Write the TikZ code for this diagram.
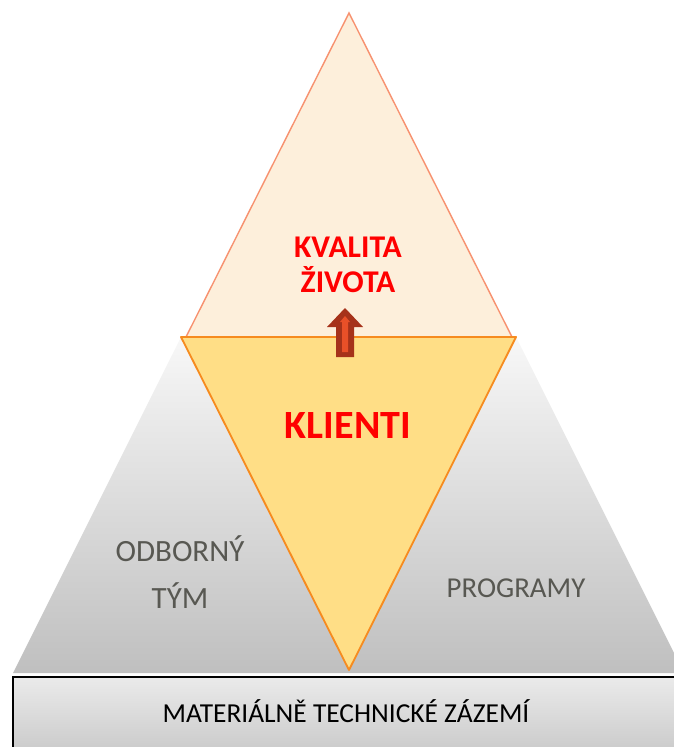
\documentclass[tikz,border=0pt]{standalone}
\usepackage{fontspec}
\setmainfont{Carlito}
\usetikzlibrary{positioning}
\definecolor{peach}{RGB}{253,239,219}
\definecolor{peachline}{RGB}{247,146,112}
\definecolor{gold}{RGB}{255,222,134}
\definecolor{goldline}{RGB}{246,139,31}
\definecolor{greytext}{RGB}{88,88,82}
\definecolor{arrowdark}{RGB}{166,50,26}
\definecolor{arrowlight}{RGB}{233,80,40}
\tikzset{
  redlabel/.style  ={text=red, font=\bfseries, align=center, inner sep=0pt},
  greylabel/.style ={text=greytext, align=center, inner sep=0pt},
}

\begin{document}
\begin{tikzpicture}[x=0.025cm,y=-0.025cm]
  \useasboundingbox (0,0) rectangle (673,747);

  % grey pyramid (lower part)
  \shade[top color=black!3, bottom color=black!25] (181,337) -- (516,337) -- (684,673) -- (13,673) -- cycle;

  % top triangle
  \filldraw[fill=peach, draw=peachline, line width=1pt] (349,13) -- (512,337) -- (186,337) -- cycle;

  % clients triangle
  \filldraw[fill=gold, draw=goldline, line width=1.3pt, line join=round] (181,337) -- (516,337) -- (349,670) -- cycle;

  % arrow up
  \fill[arrowdark] (336,357) -- (354,357) -- (354,327) -- (363,327) -- (345,308) -- (327,327) -- (336,327) -- cycle;
  \fill[arrowlight] (342,352) -- (348,352) -- (348,322) -- (350,322) -- (345,316) -- (340,322) -- (342,322) -- cycle;

  % labels
  \node[redlabel, font=\bfseries\fontsize{22.5}{24}\selectfont] (kvalita) at (348,265) {KVALITA\\[1pt]ŽIVOTA};
  \node[redlabel, font=\bfseries\fontsize{28.5}{30}\selectfont] (klienti) at (348,426) {KLIENTI};
  \node[greylabel, font=\fontsize{22}{24}\selectfont] (tym) at (180,572) {ODBORNÝ\\[10pt]TÝM};
  \node[greylabel, font=\fontsize{20.5}{22}\selectfont] (programy) at (516,588) {PROGRAMY};

  % base
  \shade[top color=black!8, bottom color=black!22] (13,677) rectangle (690,760);
  \draw[line width=1.2pt] (690,677) -- (13,677) -- (13,760);
  \node[inner sep=0pt, font=\fontsize{19.5}{21}\selectfont] (zazemi) at (346,711) {MATERIÁLNĚ TECHNICKÉ ZÁZEMÍ};
\end{tikzpicture}
\end{document}
